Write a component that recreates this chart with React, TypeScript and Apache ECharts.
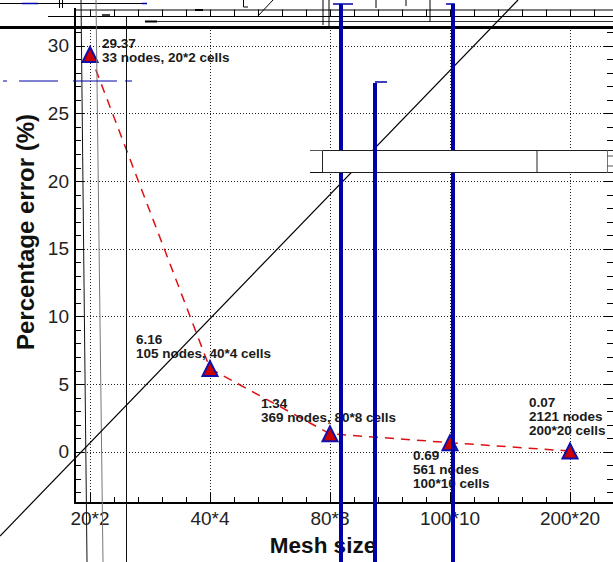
import React, { useEffect, useRef } from "react";
import * as echarts from "echarts";

// ---- data ----
const MESH = ["20*2", "40*4", "80*8", "100*10", "200*20"];
const ERROR = [29.37, 6.16, 1.34, 0.69, 0.07];
const NODES = [33, 105, 369, 561, 2121];
const LABEL_SPLIT = [false, false, false, true, true];
const X_MAJOR = [0, 1, 2, 3, 4];
const X_MINOR = [0.2, 0.4, 0.6, 0.8, 1.2, 1.4, 1.6, 1.8, 2.2, 2.4, 2.6, 2.8, 3.2, 3.4, 3.6, 3.8, 4.2];
const Y_MAJOR = [0, 5, 10, 15, 20, 25, 30];
const Y_MINOR = [-3, -2, -1, 1, 2, 3, 4, 6, 7, 8, 9, 11, 12, 13, 14, 16, 17, 18, 19, 21, 22, 23, 24, 26, 27, 28, 29, 31];

// axis ranges
const XMIN = -0.125;
const XMAX = 4.3583;
const YMIN = -3.77;
const YMAX = 31.4;

// label placement (style): offset of label's top-left from the point, px
const LABEL_OFFSET = [
  [13, -16.5],
  [-73, -35.5],
  [-68, -36],
  [-36, 7],
  [-40, -55],
];

const SYMBOL = 15;
const FONT = '"Liberation Sans", Arial, Helvetica, sans-serif';
const BLUE = "#0000aa";

function seg(x1: number, y1: number, x2: number, y2: number, stroke: string, lineWidth: number, z = 100) {
  return { type: "line", silent: true, z, shape: { x1, y1, x2, y2 }, style: { stroke, lineWidth } };
}

export default function App() {
  const ref = useRef<HTMLDivElement>(null);
  useEffect(() => {
    if (!ref.current) return;
    const chart = echarts.init(ref.current, undefined, { renderer: "svg" });

    const splitDotted = { show: true, lineStyle: { color: "#222", width: 1, type: [1, 2] } };
    const labelStyle = { fontFamily: FONT, fontSize: 19, color: "#222" };

    const graphic: any[] = [
      // top noise lines
      seg(0, 3.5, 147, 3.5, "#000", 1),
      seg(22, 3.5, 38, 3.5, BLUE, 1.5, 101),
      seg(142, 3.5, 147, 3.5, BLUE, 1.5, 101),
      seg(75, 10, 613, 10, "#000", 1),
      seg(48, 16.5, 613, 16.5, "#000", 1),
      seg(145, 21.5, 613, 21.5, "#333", 1),
      seg(145, 21.5, 157, 21.5, "#000", 2),
      seg(195, 10, 203, 10, "#000", 2),
      seg(102, 15, 110, 15, "#000", 1.5),
      seg(0, 27.5, 613, 27.5, "#000", 3),
      seg(75, 8, 75, 27, "#000", 2),
      seg(59.5, 0, 59.5, 8, "#000", 1),
      seg(62.5, 0, 62.5, 8, "#000", 1),
      seg(323, 0, 323, 25, "#000", 1),
      seg(329, 0, 329, 27, "#000", 1),
      seg(376, 0, 376, 8, "#000", 1),
      seg(406, 0, 406, 6, "#000", 1),
      seg(430, 0, 430, 22, "#000", 1),
      seg(243.5, 0, 243.5, 7, "#000", 1),
      seg(243.5, 7, 248, 7, "#000", 1),
      seg(257, 17, 273, 0, "#000", 1),
      // thin vertical lines at left
      seg(81, 0, 87, 562, "#111", 1),
      seg(96, 0, 103, 562, "#777", 1),
      seg(126.5, 17, 126.5, 562, "#111", 1),
      // blue dashes
      seg(3, 81, 7, 81, BLUE, 1),
      seg(19, 81, 58, 81, BLUE, 1),
      seg(73, 81, 117, 81, BLUE, 1),
      seg(125, 81, 132, 81, BLUE, 1),
      // diagonal
      seg(0, 536, 518, 0, "#000", 1.2),
      // blue thick verticals
      seg(341, 4, 341, 562, BLUE, 4),
      seg(333, 4, 353, 4, BLUE, 1.5),
      seg(453, 4, 453, 562, BLUE, 4),
      seg(446, 4, 455, 4, BLUE, 1.5),
      // box
      {
        type: "rect", silent: true, z: 110,
        shape: { x: 322.5, y: 150.5, width: 292, height: 22 },
        style: { fill: "#fff", stroke: "#222", lineWidth: 1 },
      },
      seg(310, 150.5, 323, 150.5, "#555", 1, 111),
      seg(310, 172.5, 323, 172.5, "#111", 1, 111),
      seg(537, 150.5, 537, 172.5, "#222", 1, 111),
      seg(607.5, 150.5, 607.5, 172.5, "#777", 1, 111),
      seg(607, 156, 613, 156, "#555", 1, 111),
      seg(607, 166, 613, 166, "#555", 1, 111),
      seg(375, 83, 375, 562, BLUE, 4, 120),
      seg(375, 82, 387, 82, BLUE, 1.5, 120),
      // axis names
      {
        type: "text", z: 5, x: 323, y: 545,
        style: {
          text: "Mesh size", fontFamily: FONT, fontSize: 22.5, fontWeight: "bold", fill: "#111",
          align: "center", verticalAlign: "middle", textAlign: "center", textVerticalAlign: "middle",
        },
      },
      {
        type: "text", z: 5, x: 25, y: 232, rotation: Math.PI / 2,
        style: {
          text: "Percentage error (%)", fontFamily: FONT, fontSize: 24, fontWeight: "bold", fill: "#111",
          align: "center", verticalAlign: "middle", textAlign: "center", textVerticalAlign: "middle",
        },
      },
    ];

    const option: any = {
      animation: false,
      backgroundColor: "#fff",
      grid: [
        { left: 75, right: 0, top: 27, bottom: 59, outerBoundsMode: "none", containLabel: false },
        { left: 75, right: 0, top: 10, height: 6.5, outerBoundsMode: "none", containLabel: false },
      ],
      xAxis: [
        {
          type: "value", gridIndex: 0, min: XMIN, max: XMAX, position: "bottom",
          axisLine: { show: true, onZero: false, lineStyle: { color: "#000", width: 2 } },
          axisTick: { show: true, inside: true, length: 10, customValues: X_MAJOR, lineStyle: { color: "#000" } },
          axisLabel: { customValues: X_MAJOR, margin: 6, formatter: (v: number) => MESH[Math.round(v)] ?? "", ...labelStyle },
          splitLine: splitDotted,
          minorTick: { show: false },
        },
        {
          type: "value", gridIndex: 0, min: XMIN, max: XMAX, position: "bottom",
          axisLine: { show: false, onZero: false },
          axisTick: { show: true, inside: true, length: 6, customValues: X_MINOR, lineStyle: { color: "#000" } },
          axisLabel: { show: false },
          splitLine: { show: false },
        },
        {
          type: "value", gridIndex: 1, min: XMIN, max: XMAX, position: "bottom",
          axisLine: { show: false, onZero: false },
          axisTick: { show: true, inside: true, length: 7, customValues: [...X_MAJOR, ...X_MINOR], lineStyle: { color: "#000" } },
          axisLabel: { show: false },
          splitLine: { show: false },
        },
      ],
      yAxis: [
        {
          type: "value", gridIndex: 0, min: YMIN, max: YMAX, position: "left",
          axisLine: { show: true, onZero: false, lineStyle: { color: "#000", width: 2 } },
          axisTick: { show: true, inside: true, length: 9, customValues: Y_MAJOR, lineStyle: { color: "#000" } },
          axisLabel: { customValues: Y_MAJOR, margin: 6, ...labelStyle },
          splitLine: splitDotted,
        },
        {
          type: "value", gridIndex: 0, min: YMIN, max: YMAX, position: "left",
          axisLine: { show: false, onZero: false },
          axisTick: { show: true, inside: true, length: 6, customValues: Y_MINOR, lineStyle: { color: "#000" } },
          axisLabel: { show: false },
          splitLine: { show: false },
        },
        {
          type: "value", gridIndex: 0, min: YMIN, max: YMAX, position: "right",
          axisLine: { show: false, onZero: false },
          axisTick: { show: true, inside: true, length: 9, customValues: Y_MAJOR, lineStyle: { color: "#000" } },
          axisLabel: { show: false },
          splitLine: { show: false },
        },
        {
          type: "value", gridIndex: 0, min: YMIN, max: YMAX, position: "right",
          axisLine: { show: false, onZero: false },
          axisTick: { show: true, inside: true, length: 6, customValues: Y_MINOR, lineStyle: { color: "#000" } },
          axisLabel: { show: false },
          splitLine: { show: false },
        },
        { type: "value", gridIndex: 1, min: 0, max: 1, show: false },
      ],
      series: [
        {
          type: "line",
          xAxisIndex: 0,
          yAxisIndex: 0,
          z: 3,
          symbol: "triangle",
          symbolSize: SYMBOL,
          lineStyle: { color: "#dd1111", width: 1.5, type: [9, 7] },
          itemStyle: { color: "#cc0000", borderColor: "#1010aa", borderWidth: 2 },
          label: {
            show: true,
            align: "left",
            verticalAlign: "top",
            fontFamily: FONT,
            fontSize: 13.5,
            fontWeight: "bold",
            lineHeight: 14,
            color: "#1a1a1a",
            formatter: (p: any) => {
              const i = p.dataIndex;
              const head = ERROR[i].toFixed(2);
              return LABEL_SPLIT[i]
                ? `${head}\n${NODES[i]} nodes\n${MESH[i]} cells`
                : `${head}\n${NODES[i]} nodes, ${MESH[i]} cells`;
            },
          },
          data: ERROR.map((v, i) => ({
            value: [X_MAJOR[i], v],
            label: { position: [LABEL_OFFSET[i][0] + SYMBOL / 2, LABEL_OFFSET[i][1] + SYMBOL / 2] },
          })),
        },
      ],
      graphic,
    };

    chart.setOption(option);
    return () => chart.dispose();
  }, []);

  return (
    <div
      ref={ref}
      style={{ position: "absolute", left: 0, top: 0, width: 613, height: 562, background: "#fff" }}
    />
  );
}
